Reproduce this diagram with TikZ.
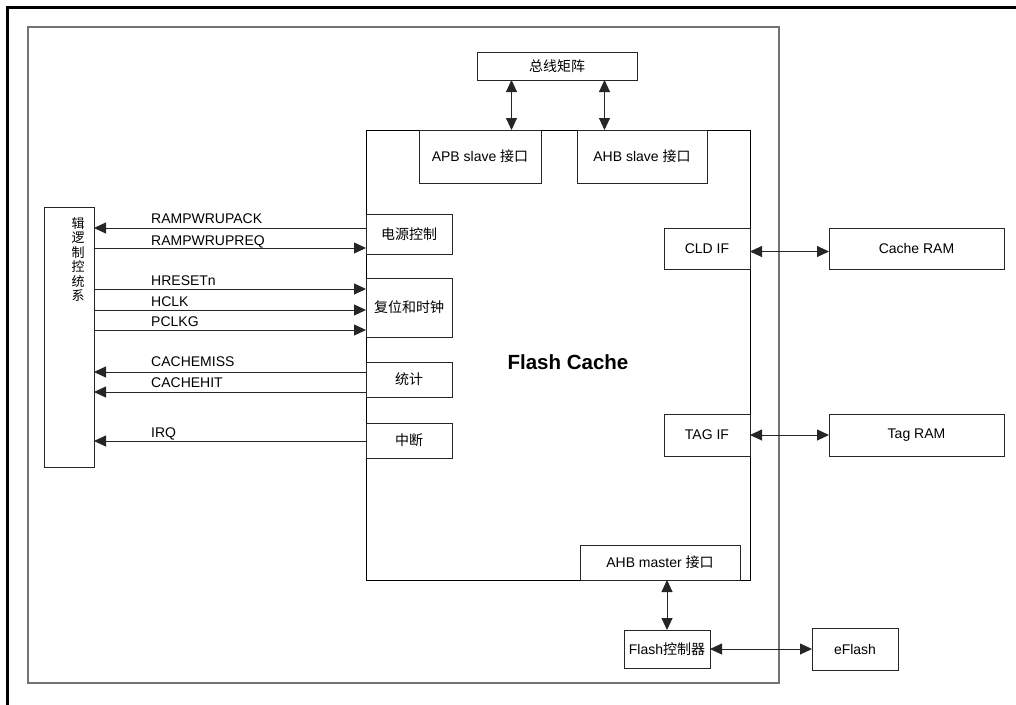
\documentclass[tikz,border=0pt]{standalone}
\usepackage{fontspec}
\setmainfont{Liberation Sans}
\newfontfamily\cjk{Noto Sans CJK SC}
\usetikzlibrary{arrows.meta}
\begin{document}
\begin{tikzpicture}[x=1pt,y=-1pt,
  box/.style={draw=black!85, line width=0.8pt, fill=white, inner sep=0pt, outer sep=0pt,
    font=\fontsize{14}{16}\selectfont},
  arr/.style={draw=black!85, line width=0.9pt, -{Triangle[length=12pt,width=11pt]}},
  darr/.style={draw=black!85, line width=0.9pt, {Triangle[length=12pt,width=11pt]}-{Triangle[length=12pt,width=11pt]}},
  sig/.style={anchor=base west, inner sep=0pt, font=\fontsize{14}{16}\selectfont}]
\useasboundingbox (0,0) rectangle (1016,704);
% outer frame
\draw[line width=2.2pt] (7.5,730) -- (7.5,7.5) -- (1040,7.5);
% inner frame
\draw[draw=black!55, line width=1.2pt] (28,27) rectangle (779,683);
% Flash Cache block
\node[box, draw=black, minimum width=384pt, minimum height=450pt] (fc) at (558,355) {};
\node[font=\fontsize{20.5}{24}\selectfont\bfseries] (fct) at (568,362) {Flash Cache};
% top
\node[box, minimum width=160pt, minimum height=28pt] (bus) at (557,66) {\cjk 总线矩阵};
\node[box, minimum width=122pt, minimum height=53pt] (apb) at (480,156.5) {APB slave {\cjk 接口}};
\node[box, minimum width=130pt, minimum height=53pt] (ahbs) at (642,156.5) {AHB slave {\cjk 接口}};
% left-side sub-blocks
\node[box, minimum width=86pt, minimum height=40pt] (pwr) at (409,234) {\cjk 电源控制};
\node[box, minimum width=86pt, minimum height=59pt] (rst) at (409,307.5) {\cjk 复位和时钟};
\node[box, minimum width=86pt, minimum height=35pt] (stat) at (409,379.5) {\cjk 统计};
\node[box, minimum width=86pt, minimum height=35pt] (intr) at (409,440.5) {\cjk 中断};
% system control logic
\node[box, minimum width=50pt, minimum height=260pt] (sys) at (69,337) {};
\node[anchor=north, align=center, inner sep=0pt, font=\cjk\fontsize{13}{14.5}\selectfont] (syst) at (78,217) {辑\\逻\\制\\控\\统\\系};
% right side
\node[box, minimum width=86pt, minimum height=41pt] (cld) at (707,248.5) {CLD IF};
\node[box, minimum width=175pt, minimum height=41pt] (cram) at (916.5,248.5) {Cache RAM};
\node[box, minimum width=86pt, minimum height=42pt] (tag) at (707,435) {TAG IF};
\node[box, minimum width=175pt, minimum height=42pt] (tram) at (916.5,435) {Tag RAM};
% bottom
\node[box, minimum width=160pt, minimum height=35pt] (ahbm) at (660,562.5) {AHB master {\cjk 接口}};
\node[box, minimum width=86pt, minimum height=38pt] (fctl) at (667,649) {Flash{\cjk 控制器}};
\node[box, minimum width=86pt, minimum height=42pt] (ef) at (855,649) {eFlash};
% helper coordinates
\coordinate (xa) at (511.5,0);
\coordinate (xb) at (604.5,0);
\coordinate (yack) at (0,228);
\coordinate (yreq) at (0,248);
\coordinate (yrst) at (0,289);
\coordinate (yhclk) at (0,310);
\coordinate (ypclk) at (0,330);
\coordinate (ymiss) at (0,372);
\coordinate (yhit) at (0,392);
\coordinate (yirq) at (0,441);
\coordinate (ycld) at (0,251.5);
% bus arrows
\draw[darr] (bus.south -| xa) -- (apb.north -| xa);
\draw[darr] (bus.south -| xb) -- (ahbs.north -| xb);
% signals
\draw[arr] (pwr.west |- yack) -- (sys.east |- yack);
\draw[arr] (sys.east |- yreq) -- (pwr.west |- yreq);
\draw[arr] (sys.east |- yrst) -- (rst.west |- yrst);
\draw[arr] (sys.east |- yhclk) -- (rst.west |- yhclk);
\draw[arr] (sys.east |- ypclk) -- (rst.west |- ypclk);
\draw[arr] (stat.west |- ymiss) -- (sys.east |- ymiss);
\draw[arr] (stat.west |- yhit) -- (sys.east |- yhit);
\draw[arr] (intr.west |- yirq) -- (sys.east |- yirq);
\node[sig] (lack) at (151,223.5) {RAMPWRUPACK};
\node[sig] (lreq) at (151,245.5) {RAMPWRUPREQ};
\node[sig] (lrst) at (151,285) {HRESETn};
\node[sig] (lhclk) at (151,306) {HCLK};
\node[sig] (lpclk) at (151,326) {PCLKG};
\node[sig] (lmiss) at (151,366.5) {CACHEMISS};
\node[sig] (lhit) at (151,387) {CACHEHIT};
\node[sig] (lirq) at (151,437) {IRQ};
% right arrows
\draw[darr] (cld.east |- ycld) -- (cram.west |- ycld);
\draw[darr] (tag.east) -- (tram.west);
% bottom arrows
\draw[darr] (ahbm.south -| fctl.north) -- (fctl.north);
\draw[darr] (fctl.east) -- (ef.west);
\end{tikzpicture}
\end{document}
